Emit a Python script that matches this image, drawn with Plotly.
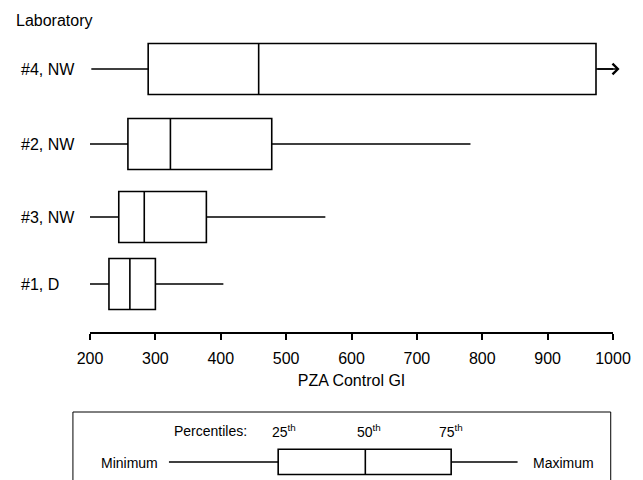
import plotly.graph_objects as go

# ---- data ----
labs = ["#4, NW", "#2, NW", "#3, NW", "#1, D"]
gi_min = [202, 200, 198, 200]
gi_q1 = [289, 258, 244, 229]
gi_median = [458, 323, 283, 261]
gi_q3 = [974, 478, 378, 300]
gi_max = [1000, 782, 560, 404]       # #4 maximum lies beyond the axis (arrow)
off_scale = [True, False, False, False]
x_ticks = [200, 300, 400, 500, 600, 700, 800, 900, 1000]

# ---- layout helpers (pixel geometry of the 643x480 canvas) ----
W, H = 643, 480
L, R = 90, 620          # x pixel of 200 and 1000
T, B = 30, 332          # plot area top / bottom pixel
lane_px = [69, 144, 217, 284]
lane_y = [B - p for p in lane_px]   # y axis runs 0..(B-T) upward
box_w = 51

def px(x):
    return (x - L) / (R - L)

def py(y):
    return (B - y) / (B - T)

FONT = "Liberation Sans, Arial, sans-serif"
LW = 1.6

fig = go.Figure()
for i, lab in enumerate(labs):
    fig.add_trace(go.Box(
        orientation="h",
        y=[lane_y[i]],
        q1=[gi_q1[i]], median=[gi_median[i]], q3=[gi_q3[i]],
        lowerfence=[gi_min[i]], upperfence=[gi_max[i]],
        width=box_w, whiskerwidth=0,
        fillcolor="white",
        line=dict(color="black", width=LW),
        name=lab, showlegend=False, hoverinfo="skip",
    ))
    fig.add_annotation(x=px(18), xref="paper", y=lane_y[i], yref="y",
                       text=lab, showarrow=False, xanchor="left", yanchor="middle",
                       font=dict(size=16, color="black", family=FONT))
    if off_scale[i]:
        fig.add_annotation(x=1010, y=lane_y[i], xref="x", yref="y",
                           ax=gi_q3[i], ay=lane_y[i], axref="x", ayref="y",
                           text="", showarrow=True, arrowhead=4,
                           arrowsize=1.3, arrowwidth=LW, arrowcolor="black")

fig.add_annotation(x=px(12.7), xref="paper", y=py(20), yref="paper",
                   text="Laboratory", showarrow=False, xanchor="left", yanchor="middle",
                   font=dict(size=16, color="black", family=FONT))

# ---- legend key (illustrative) ----
key_y = 462
shapes = [
    dict(type="rect", xref="paper", yref="paper", x0=px(72.7), x1=px(617.7),
         y0=py(412), y1=py(520), line=dict(color="black", width=1), fillcolor="rgba(0,0,0,0)"),
    dict(type="line", xref="paper", yref="paper", x0=px(170), x1=px(280.7),
         y0=py(key_y), y1=py(key_y), line=dict(color="black", width=LW)),
    dict(type="line", xref="paper", yref="paper", x0=px(456), x1=px(523.3),
         y0=py(key_y), y1=py(key_y), line=dict(color="black", width=LW)),
    dict(type="rect", xref="paper", yref="paper", x0=px(280.7), x1=px(456),
         y0=py(449.3), y1=py(474.5), line=dict(color="black", width=LW), fillcolor="white"),
    dict(type="line", xref="paper", yref="paper", x0=px(369), x1=px(369),
         y0=py(449.3), y1=py(474.5), line=dict(color="black", width=LW)),
]
for s in shapes:
    fig.add_shape(**s)

key_texts = [
    ("Percentiles:", 173.3, 430.7),
    ("25<sup>th</sup>", 272, 430.7),
    ("50<sup>th</sup>", 358.3, 430.7),
    ("75<sup>th</sup>", 441.7, 430.7),
    ("Minimum", 99.3, 463),
    ("Maximum", 536.7, 463),
]
for t, x, y in key_texts:
    fig.add_annotation(x=px(x), y=py(y), xref="paper", yref="paper", text=t,
                       showarrow=False, xanchor="left", yanchor="middle",
                       font=dict(size=14, color="black", family=FONT))

fig.update_xaxes(range=[200, 1000], tickvals=x_ticks, ticktext=[str(v) for v in x_ticks],
                 showline=True, linecolor="black", linewidth=LW,
                 ticks="outside", ticklen=6, tickwidth=LW, tickcolor="black",
                 ticklabelstandoff=5,
                 showgrid=False, zeroline=False,
                 tickfont=dict(size=16, color="black", family=FONT),
                 title=dict(text="PZA Control GI", standoff=9,
                            font=dict(size=16, color="black", family=FONT)))
fig.update_yaxes(range=[0, B - T], visible=False, showgrid=False, zeroline=False)

fig.update_layout(width=W, height=H, autosize=False,
                  margin=dict(l=L, r=W - R, t=T, b=H - B, pad=0),
                  plot_bgcolor="white", paper_bgcolor="white",
                  font=dict(family=FONT, color="black"), showlegend=False)

fig.write_html("out.html", config={"displayModeBar": False},
               post_script="document.body.style.margin='0';")
